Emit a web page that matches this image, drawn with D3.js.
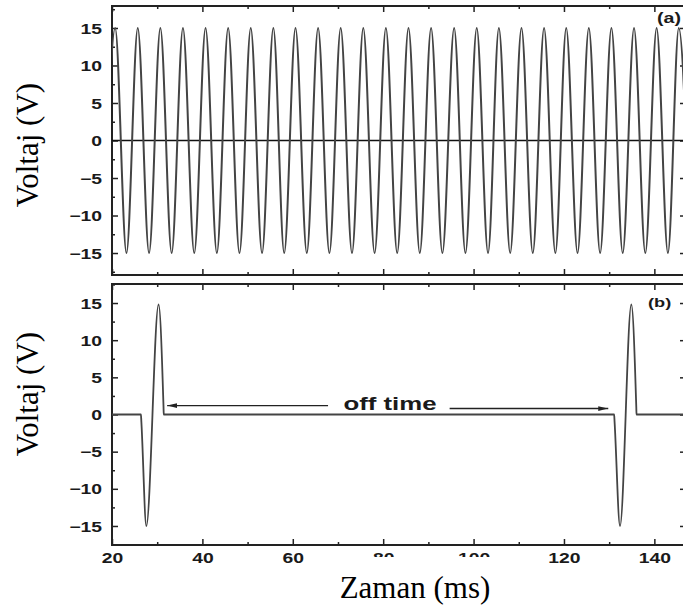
<!DOCTYPE html>
<meta charset="utf-8">
<script src="https://d3js.org/d3.v7.min.js"></script>
<body style="margin:0;background:#fff">
<div id="chart"></div>
<script>
// (a) continuous wave: times (ms) of the crests and troughs
const peakTimesA = [20.7, 25.7, 30.7, 35.7, 40.7, 45.7, 50.7, 55.7, 60.6, 65.6, 70.6, 75.6, 80.6,
                    85.6, 90.6, 95.7, 100.7, 105.6, 110.6, 115.6, 120.5, 125.5, 130.5, 135.5, 140.5, 145.4];
const troughTimesA = [18.2, 23.2, 28.2, 33.2, 38.2, 43.2, 48.2, 53.2, 58.1, 63.1, 68.1, 73.1, 78.1, 83.1,
                      88.1, 93.1, 98.2, 103.2, 108.1, 113.1, 118.1, 123.0, 128.0, 133.0, 138.0, 143.0, 147.9];
const peakVoltA = 15;
const troughVoltA = -15;

// (b) pulsed wave: two bursts separated by the off time
const timesB = [20, 26.4, 26.5, 27.6, 30.3, 31.4, 31.45, 131.1, 131.2, 132.4, 134.9, 136.0, 136.05, 148];
const voltsB = [0, 0, -1, -15, 14.8, 1, 0, 0, -1, -15, 14.8, 1, 0, 0];

// off-time arrows (ms, V)
const offArrowLeft = [32.2, 67.8, 1.2];   // head, tail, level
const offArrowRight = [94.7, 129.8, 0.8]; // tail, head, level

const majorY = [-15, -10, -5, 0, 5, 10, 15];
const minorY = [-17.5, -12.5, -7.5, -2.5, 2.5, 7.5, 12.5, 17.5];
const majorX = [20, 40, 60, 80, 100, 120, 140];
const minorX = [30, 50, 70, 90, 110, 130];

const W = 683, H = 610;
const sans = "'Liberation Sans', Arial, Helvetica, sans-serif";
const serif = "'Liberation Serif', 'Times New Roman', serif";

const svg = d3.select("#chart").append("svg")
  .attr("width", W).attr("height", H);

const defs = svg.append("defs");
defs.append("marker")
  .attr("id", "head")
  .attr("viewBox", "0 0 10 6")
  .attr("refX", 10).attr("refY", 3)
  .attr("markerWidth", 10).attr("markerHeight", 6)
  .attr("markerUnits", "userSpaceOnUse")
  .attr("orient", "auto")
  .append("path").attr("d", "M0,0.6 L10,3 L0,5.4 Z").attr("fill", "#222");

const left = 112, right = 686;
const x = d3.scaleLinear().domain([20, 147]).range([left, right]);

const panels = [
  {id: "a", top: 6, bottom: 275, ext: 17.93, label: "(a)", lx: 657, ly: 23, lsize: 14},
  {id: "b", top: 284, bottom: 545, ext: 17.56, label: "(b)", lx: 648, ly: 307, lsize: 13}
];

const sx = 1.38; // tick labels are stretched horizontally in the original

function boldText(sel, size) {
  sel.attr("font-family", null).attr("font-size", null)
    .style("font-family", sans).style("font-size", size + "px")
    .style("font-weight", "700").attr("fill", "#1a1a1a");
}

panels.forEach(p => {
  p.y = d3.scaleLinear().domain([-p.ext, p.ext]).range([p.bottom, p.top]);
  const g = svg.append("g");

  defs.append("clipPath").attr("id", "clip" + p.id)
    .append("rect").attr("x", left).attr("y", p.top)
    .attr("width", right - left).attr("height", p.bottom - p.top);

  const mk = (axis, tx, ty, vals, size, labels) => {
    const a = g.append("g").attr("transform", `translate(${tx},${ty})`)
      .call(axis.tickValues(vals).tickSize(-size).tickPadding(0)
        .tickFormat(labels ? d3.format("d") : ""));
    a.attr("font-family", null).attr("font-size", null);
    a.select(".domain").remove();
    a.selectAll("line").attr("stroke", "#222").attr("stroke-width", 1.5);
    return a;
  };

  // left axis
  const la = mk(d3.axisLeft(p.y), left, 0, majorY, 6, true);
  la.selectAll("text")
    .attr("x", -10 / sx).attr("dy", "0.36em")
    .attr("transform", `scale(${sx},1)`)
    .call(boldText, 14);
  mk(d3.axisLeft(p.y), left, 0, minorY, 3, false);
  mk(d3.axisRight(p.y), right, 0, majorY, 6, false);
  mk(d3.axisRight(p.y), right, 0, minorY, 3, false);
  mk(d3.axisTop(x), 0, p.top, majorX, 6, false);
  mk(d3.axisTop(x), 0, p.top, minorX, 3, false);
  const ba = mk(d3.axisBottom(x), 0, p.bottom, majorX, 6, p.id === "b");
  mk(d3.axisBottom(x), 0, p.bottom, minorX, 3, false);
  if (p.id === "b") {
    ba.selectAll("text")
      .attr("y", 8).attr("dy", "0.71em")
      .attr("transform", `scale(${sx},1)`)
      .call(boldText, 14);
  }

  // frame
  g.append("rect").attr("x", left).attr("y", p.top)
    .attr("width", right - left).attr("height", p.bottom - p.top)
    .attr("fill", "none").attr("stroke", "#222").attr("stroke-width", 2);

  svg.append("text")
    .attr("transform", `translate(${p.lx},${p.ly}) scale(1.4,1)`)
    .call(boldText, p.lsize)
    .text(p.label);
});

// panel (a) wave
const pa = panels[0];
const ptsA = peakTimesA.map(t => [t, peakVoltA])
  .concat(troughTimesA.map(t => [t, troughVoltA]))
  .sort((m, n) => m[0] - n[0]);

svg.append("line")
  .attr("x1", left).attr("x2", right)
  .attr("y1", pa.y(0)).attr("y2", pa.y(0))
  .attr("stroke", "#111").attr("stroke-width", 1.6);

svg.append("path")
  .attr("clip-path", "url(#clipa)")
  .attr("d", d3.line().x(d => x(d[0])).y(d => pa.y(d[1])).curve(d3.curveMonotoneX)(ptsA))
  .attr("fill", "none").attr("stroke", "#444").attr("stroke-width", 2);

// panel (b) wave
const pb = panels[1];
const ptsB = timesB.map((t, i) => [t, voltsB[i]]);
svg.append("path")
  .attr("clip-path", "url(#clipb)")
  .attr("d", d3.line().x(d => x(d[0])).y(d => pb.y(d[1])).curve(d3.curveMonotoneX)(ptsB))
  .attr("fill", "none").attr("stroke", "#444").attr("stroke-width", 1.8);

// off time annotation
svg.append("line")
  .attr("x1", x(offArrowLeft[1])).attr("x2", x(offArrowLeft[0]))
  .attr("y1", pb.y(offArrowLeft[2])).attr("y2", pb.y(offArrowLeft[2]))
  .attr("stroke", "#222").attr("stroke-width", 1.4).attr("marker-end", "url(#head)");
svg.append("line")
  .attr("x1", x(offArrowRight[0])).attr("x2", x(offArrowRight[1]))
  .attr("y1", pb.y(offArrowRight[2])).attr("y2", pb.y(offArrowRight[2]))
  .attr("stroke", "#222").attr("stroke-width", 1.4).attr("marker-end", "url(#head)");
svg.append("text")
  .attr("transform", `translate(390,410) scale(1.36,1)`)
  .attr("text-anchor", "middle")
  .call(boldText, 19)
  .text("off time");

// axis titles
[145, 394].forEach(cy => {
  svg.append("text")
    .attr("transform", `translate(38,${cy}) rotate(-90)`)
    .attr("text-anchor", "middle")
    .style("font-family", serif).style("font-size", "31px").attr("fill", "#000")
    .text("Voltaj (V)");
});

svg.append("rect").attr("x", 345).attr("y", 557).attr("width", 160).attr("height", 53).attr("fill", "#fff");
svg.append("text")
  .attr("x", 415).attr("y", 598)
  .attr("text-anchor", "middle")
  .style("font-family", serif).style("font-size", "31px").attr("fill", "#000")
  .text("Zaman (ms)");
</script>
</body>
